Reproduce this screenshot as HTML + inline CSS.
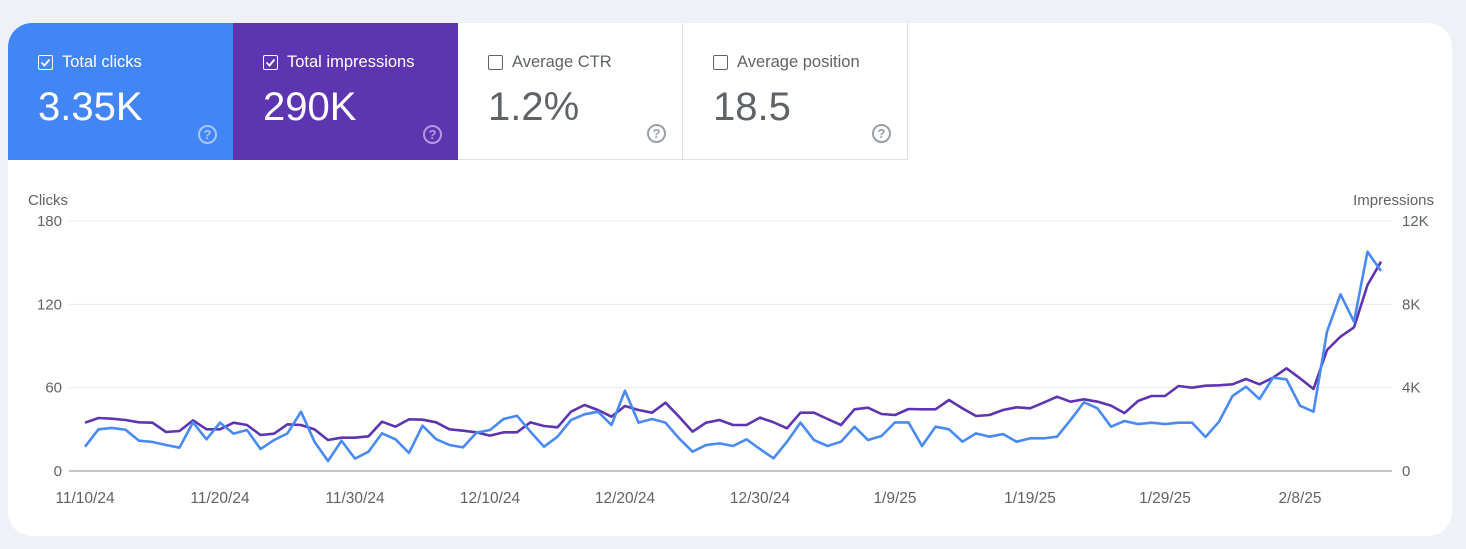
<!DOCTYPE html>
<html><head><meta charset="utf-8">
<style>
body{margin:0;width:1466px;height:549px;background:#eef2f8;font-family:"Liberation Sans",Arial,sans-serif;overflow:hidden;position:relative}
#card{position:absolute;left:8px;top:23px;width:1444px;height:513px;background:#fff;border-radius:24px;overflow:hidden}
.tile{position:absolute;top:0;width:225px;height:137px;box-sizing:border-box}
.tile .lbl{position:absolute;left:30px;top:30px;font-size:16.5px;display:flex;align-items:center}
.cb{width:13px;height:13px;border:1.5px solid;border-radius:2px;margin-right:9px;position:relative}
.tile .val{position:absolute;left:30px;top:62px;font-size:40px}
.q{position:absolute;right:16px;bottom:16px;width:15px;height:15px;border:2px solid;border-radius:50%;font-size:13px;font-weight:bold;text-align:center;line-height:15px}
svg text{font-family:"Liberation Sans",Arial,sans-serif}
</style></head><body>
<div id="card">
 <div class="tile" style="left:0;background:#4285f4;color:#fff">
  <div class="lbl"><span class="cb" style="border-color:#fff"><svg width="13" height="13" style="position:absolute;left:0;top:0"><path d="M2.5 6.5l3 3 5-6" stroke="#fff" stroke-width="1.8" fill="none"/></svg></span>Total clicks</div>
  <div class="val">3.35K</div>
  <div class="q" style="border-color:#a9c6fa;color:#a9c6fa">?</div>
 </div>
 <div class="tile" style="left:225px;background:#5e35b1;color:#fff">
  <div class="lbl"><span class="cb" style="border-color:#fff"><svg width="13" height="13" style="position:absolute;left:0;top:0"><path d="M2.5 6.5l3 3 5-6" stroke="#fff" stroke-width="1.8" fill="none"/></svg></span>Total impressions</div>
  <div class="val">290K</div>
  <div class="q" style="border-color:#b19ae0;color:#b19ae0">?</div>
 </div>
 <div class="tile" style="left:450px;background:#fff;color:#5f6368;border-right:1px solid #e0e0e0;border-bottom:1px solid #e0e0e0">
  <div class="lbl"><span class="cb" style="border-color:#5f6368"></span>Average CTR</div>
  <div class="val">1.2%</div>
  <div class="q" style="border-color:#9aa0a6;color:#9aa0a6">?</div>
 </div>
 <div class="tile" style="left:675px;background:#fff;color:#5f6368;border-right:1px solid #e0e0e0;border-bottom:1px solid #e0e0e0">
  <div class="lbl"><span class="cb" style="border-color:#5f6368"></span>Average position</div>
  <div class="val">18.5</div>
  <div class="q" style="border-color:#9aa0a6;color:#9aa0a6">?</div>
 </div>
</div>
<svg id="chart" width="1466" height="549" style="position:absolute;left:0;top:0"></svg>
<script>
const clicks=[17.5,30,31,29.7,21.8,20.9,18.7,16.8,35,22.8,34.8,26.9,29.5,15.8,22.3,27.1,42.7,21.1,7.2,21.8,8.9,13.9,27.1,22.8,13,32.6,
23,18.7,17,27.6,29.5,37.4,39.8,28.3,17.5,24.7,36.7,40.8,42.7,33.1,57.8,34.8,37.4,34.8,23.5,13.9,18.7,19.9,18,22.8,15.8,9.1,
21.1,34.8,22.3,18,21.1,31.9,22.3,25.2,35,35,18,31.9,30,21.1,27.1,24.7,26.6,21.1,23.5,23.5,24.7,36.7,49.5,45.1,31.9,36,
33.8,34.8,33.8,34.8,34.8,24.5,35.5,54,60.7,51.8,67.2,66,47,42.7,100.3,127.2,107.5,157.9,144];
const impressions=[2320,2544,2512,2448,2336,2320,1872,1920,2432,2000,2000,2320,2208,1728,1792,2240,2208,2000,1488,1600,1600,1664,2368,2128,2480,2464,
2336,2000,1936,1856,1696,1856,1856,2336,2160,2096,2848,3168,2928,2608,3120,2928,2800,3280,2608,1888,2320,2448,2208,2208,2560,2340,
2048,2800,2800,2496,2208,2960,3040,2736,2688,2976,2960,2960,3408,3008,2640,2688,2928,3056,3008,3280,3568,3328,3440,3328,3136,2780,
3360,3600,3600,4080,4000,4096,4112,4160,4416,4160,4480,4928,4448,3936,5808,6448,6896,8928,10048];
const leftTicks=[0,60,120,180];
const rightTickLabels=["0","4K","8K","12K"];
const rightTicks=[0,4000,8000,12000];
const xTickLabels=["11/10/24","11/20/24","11/30/24","12/10/24","12/20/24","12/30/24","1/9/25","1/19/25","1/29/25","2/8/25"];
const xTickIndex=[0,10,20,30,40,50,60,70,80,90];

const svg=document.getElementById('chart');
const NS='http://www.w3.org/2000/svg';
const X0=85,DX=13.5,Y0=471,Y1=221;
const xs=i=>X0+i*DX;
const yL=v=>Y0-(v/180)*(Y0-Y1);
const yR=v=>Y0-(v/12000)*(Y0-Y1);
function mk(t,a){const e=document.createElementNS(NS,t);for(const k in a)e.setAttribute(k,a[k]);svg.appendChild(e);return e;}
leftTicks.forEach((v,i)=>{
 const g=mk('line',{x1:69,x2:1392,y1:yL(v),y2:yL(v),stroke:v===0?'#8a8a8a':'#ececec','stroke-width':1});
 
 
 const t=mk('text',{x:62,y:yL(v)+5,'text-anchor':'end','font-size':15,fill:'#5f6368'});t.textContent=v;
 
 
});
rightTicks.forEach((v,i)=>{
 const t=mk('text',{x:1402,y:yR(v)+5,'font-size':15,fill:'#5f6368'});t.textContent=rightTickLabels[i];
 
 
});
xTickIndex.forEach((ix,i)=>{
 const t=mk('text',{x:xs(ix),y:503,'text-anchor':'middle','font-size':15.5,fill:'#5f6368'});t.textContent=xTickLabels[i];
 
 
});
let t=mk('text',{x:28,y:205,'font-size':15,fill:'#5f6368'});t.textContent='Clicks';


t=mk('text',{x:1434,y:205,'text-anchor':'end','font-size':15,fill:'#5f6368'});t.textContent='Impressions';


let p=mk('polyline',{points:impressions.map((v,i)=>xs(i)+','+yR(v)).join(' '),fill:'none',stroke:'#5e35b1','stroke-width':2.6,'stroke-linejoin':'round'});


p=mk('polyline',{points:clicks.map((v,i)=>xs(i)+','+yL(v)).join(' '),fill:'none',stroke:'#4a8af4','stroke-width':2.6,'stroke-linejoin':'round'});


</script>
</body></html>
